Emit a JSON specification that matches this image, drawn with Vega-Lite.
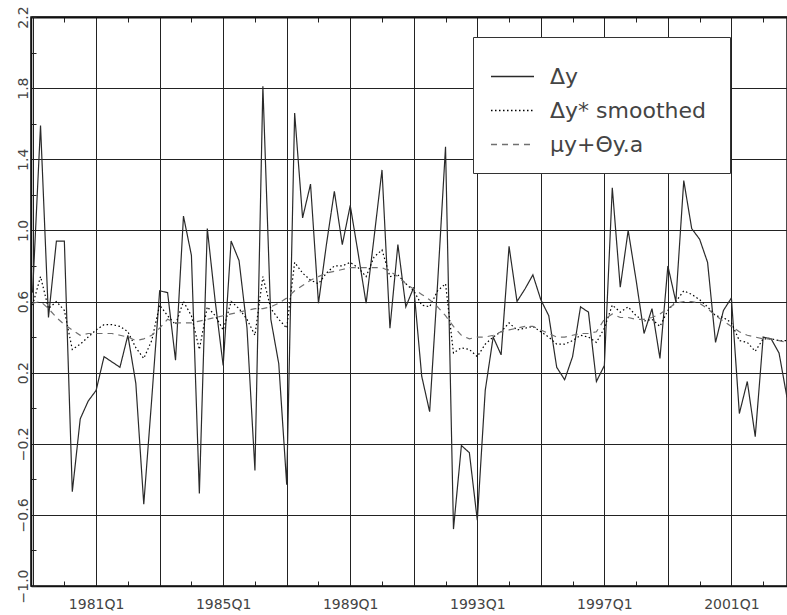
{
  "$schema": "https://vega.github.io/schema/vega-lite/v6.json",
  "width": 756,
  "height": 569,
  "autosize": {"type": "none"},
  "padding": {"left": 31, "top": 17, "right": 0, "bottom": 29},
  "background": "white",
  "config": {
    "view": {"stroke": "#111", "strokeWidth": 1.5},
    "font": "DejaVu Sans"
  },
  "data": {
    "values": [
      {"t": 1979, "dy": 0.65, "dys": 0.58, "mu": 0.59},
      {"t": 1979.25, "dy": 1.59, "dys": 0.74, "mu": 0.60},
      {"t": 1979.5, "dy": 0.51, "dys": 0.56, "mu": 0.56},
      {"t": 1979.75, "dy": 0.94, "dys": 0.60, "mu": 0.51},
      {"t": 1980, "dy": 0.94, "dys": 0.55, "mu": 0.47},
      {"t": 1980.25, "dy": -0.47, "dys": 0.33, "mu": 0.44},
      {"t": 1980.5, "dy": -0.06, "dys": 0.36, "mu": 0.41},
      {"t": 1980.75, "dy": 0.04, "dys": 0.40, "mu": 0.42},
      {"t": 1981, "dy": 0.10, "dys": 0.44, "mu": 0.42},
      {"t": 1981.25, "dy": 0.29, "dys": 0.47, "mu": 0.42},
      {"t": 1981.5, "dy": 0.26, "dys": 0.47, "mu": 0.42},
      {"t": 1981.75, "dy": 0.23, "dys": 0.46, "mu": 0.41},
      {"t": 1982, "dy": 0.41, "dys": 0.43, "mu": 0.40},
      {"t": 1982.25, "dy": 0.14, "dys": 0.34, "mu": 0.38},
      {"t": 1982.5, "dy": -0.54, "dys": 0.28, "mu": 0.39},
      {"t": 1982.75, "dy": 0.05, "dys": 0.38, "mu": 0.41},
      {"t": 1983, "dy": 0.66, "dys": 0.58, "mu": 0.45},
      {"t": 1983.25, "dy": 0.65, "dys": 0.52, "mu": 0.50},
      {"t": 1983.5, "dy": 0.27, "dys": 0.47, "mu": 0.48},
      {"t": 1983.75, "dy": 1.08, "dys": 0.60, "mu": 0.48},
      {"t": 1984, "dy": 0.86, "dys": 0.52, "mu": 0.48},
      {"t": 1984.25, "dy": -0.48, "dys": 0.33, "mu": 0.49},
      {"t": 1984.5, "dy": 1.01, "dys": 0.57, "mu": 0.50},
      {"t": 1984.75, "dy": 0.60, "dys": 0.52, "mu": 0.51},
      {"t": 1985, "dy": 0.24, "dys": 0.44, "mu": 0.52},
      {"t": 1985.25, "dy": 0.94, "dys": 0.60, "mu": 0.53},
      {"t": 1985.5, "dy": 0.83, "dys": 0.56, "mu": 0.54},
      {"t": 1985.75, "dy": 0.45, "dys": 0.50, "mu": 0.55},
      {"t": 1986, "dy": -0.35, "dys": 0.41, "mu": 0.56},
      {"t": 1986.25, "dy": 1.81, "dys": 0.74, "mu": 0.56},
      {"t": 1986.5, "dy": 0.50, "dys": 0.56, "mu": 0.57},
      {"t": 1986.75, "dy": 0.25, "dys": 0.50, "mu": 0.59},
      {"t": 1987, "dy": -0.43, "dys": 0.45, "mu": 0.62},
      {"t": 1987.25, "dy": 1.66, "dys": 0.82, "mu": 0.66},
      {"t": 1987.5, "dy": 1.07, "dys": 0.76, "mu": 0.69},
      {"t": 1987.75, "dy": 1.26, "dys": 0.72, "mu": 0.72},
      {"t": 1988, "dy": 0.59, "dys": 0.70, "mu": 0.74},
      {"t": 1988.25, "dy": 0.92, "dys": 0.76, "mu": 0.76},
      {"t": 1988.5, "dy": 1.22, "dys": 0.80, "mu": 0.77},
      {"t": 1988.75, "dy": 0.92, "dys": 0.80, "mu": 0.78},
      {"t": 1989, "dy": 1.14, "dys": 0.82, "mu": 0.79},
      {"t": 1989.25, "dy": 0.87, "dys": 0.79, "mu": 0.79},
      {"t": 1989.5, "dy": 0.59, "dys": 0.74, "mu": 0.79},
      {"t": 1989.75, "dy": 0.96, "dys": 0.85, "mu": 0.79},
      {"t": 1990, "dy": 1.34, "dys": 0.89, "mu": 0.79},
      {"t": 1990.25, "dy": 0.45, "dys": 0.74, "mu": 0.77},
      {"t": 1990.5, "dy": 0.92, "dys": 0.75, "mu": 0.74},
      {"t": 1990.75, "dy": 0.57, "dys": 0.70, "mu": 0.70},
      {"t": 1991, "dy": 0.68, "dys": 0.66, "mu": 0.67},
      {"t": 1991.25, "dy": 0.18, "dys": 0.58, "mu": 0.64},
      {"t": 1991.5, "dy": -0.02, "dys": 0.57, "mu": 0.61},
      {"t": 1991.75, "dy": 0.70, "dys": 0.66, "mu": 0.57},
      {"t": 1992, "dy": 1.47, "dys": 0.70, "mu": 0.52},
      {"t": 1992.25, "dy": -0.68, "dys": 0.31, "mu": 0.46},
      {"t": 1992.5, "dy": -0.21, "dys": 0.34, "mu": 0.41},
      {"t": 1992.75, "dy": -0.25, "dys": 0.33, "mu": 0.39},
      {"t": 1993, "dy": -0.63, "dys": 0.29, "mu": 0.40},
      {"t": 1993.25, "dy": 0.10, "dys": 0.36, "mu": 0.40},
      {"t": 1993.5, "dy": 0.40, "dys": 0.40, "mu": 0.41},
      {"t": 1993.75, "dy": 0.30, "dys": 0.43, "mu": 0.43},
      {"t": 1994, "dy": 0.91, "dys": 0.48, "mu": 0.44},
      {"t": 1994.25, "dy": 0.60, "dys": 0.44, "mu": 0.45},
      {"t": 1994.5, "dy": 0.67, "dys": 0.45, "mu": 0.46},
      {"t": 1994.75, "dy": 0.75, "dys": 0.46, "mu": 0.46},
      {"t": 1995, "dy": 0.61, "dys": 0.43, "mu": 0.44},
      {"t": 1995.25, "dy": 0.52, "dys": 0.40, "mu": 0.42},
      {"t": 1995.5, "dy": 0.23, "dys": 0.36, "mu": 0.40},
      {"t": 1995.75, "dy": 0.16, "dys": 0.36, "mu": 0.40},
      {"t": 1996, "dy": 0.29, "dys": 0.38, "mu": 0.41},
      {"t": 1996.25, "dy": 0.57, "dys": 0.41, "mu": 0.42},
      {"t": 1996.5, "dy": 0.54, "dys": 0.40, "mu": 0.42},
      {"t": 1996.75, "dy": 0.15, "dys": 0.37, "mu": 0.43},
      {"t": 1997, "dy": 0.24, "dys": 0.45, "mu": 0.50},
      {"t": 1997.25, "dy": 1.24, "dys": 0.58, "mu": 0.53},
      {"t": 1997.5, "dy": 0.68, "dys": 0.54, "mu": 0.51},
      {"t": 1997.75, "dy": 1.00, "dys": 0.57, "mu": 0.51},
      {"t": 1998, "dy": 0.72, "dys": 0.52, "mu": 0.50},
      {"t": 1998.25, "dy": 0.42, "dys": 0.49, "mu": 0.50},
      {"t": 1998.5, "dy": 0.56, "dys": 0.50, "mu": 0.51},
      {"t": 1998.75, "dy": 0.28, "dys": 0.46, "mu": 0.53},
      {"t": 1999, "dy": 0.80, "dys": 0.55, "mu": 0.56},
      {"t": 1999.25, "dy": 0.60, "dys": 0.60, "mu": 0.59},
      {"t": 1999.5, "dy": 1.28, "dys": 0.66, "mu": 0.60},
      {"t": 1999.75, "dy": 1.01, "dys": 0.64, "mu": 0.60},
      {"t": 2000, "dy": 0.95, "dys": 0.61, "mu": 0.59},
      {"t": 2000.25, "dy": 0.82, "dys": 0.57, "mu": 0.56},
      {"t": 2000.5, "dy": 0.37, "dys": 0.52, "mu": 0.52},
      {"t": 2000.75, "dy": 0.55, "dys": 0.51, "mu": 0.49},
      {"t": 2001, "dy": 0.62, "dys": 0.48, "mu": 0.46},
      {"t": 2001.25, "dy": -0.03, "dys": 0.38, "mu": 0.43},
      {"t": 2001.5, "dy": 0.15, "dys": 0.37, "mu": 0.41},
      {"t": 2001.75, "dy": -0.16, "dys": 0.32, "mu": 0.40},
      {"t": 2002, "dy": 0.40, "dys": 0.39, "mu": 0.39},
      {"t": 2002.25, "dy": 0.39, "dys": 0.39, "mu": 0.39},
      {"t": 2002.5, "dy": 0.31, "dys": 0.38, "mu": 0.38},
      {"t": 2002.75, "dy": 0.06, "dys": 0.38, "mu": 0.37}
    ]
  },
  "transform": [{"fold": ["dy", "dys", "mu"], "as": ["series", "v"]}],
  "encoding": {
    "y": {
      "field": "v",
      "type": "quantitative",
      "scale": {"domain": [-1, 2.2], "nice": false, "zero": false},
      "axis": {
        "orient": "left",
        "title": null,
        "values": [-1, -0.8, -0.6, -0.4, -0.2, 0, 0.2, 0.4, 0.6, 0.8, 1, 1.2, 1.4, 1.6, 1.8, 2, 2.2],
        "grid": true,
        "gridColor": "#222",
        "gridWidth": 1,
        "gridOpacity": {"condition": {"test": "indexof([-1, -0.6, -0.2, 0.2, 0.6, 1, 1.4, 1.8, 2.2], datum.value) >= 0", "value": 1}, "value": 0},
        "labelExpr": "indexof([-1, -0.6, -0.2, 0.2, 0.6, 1, 1.4, 1.8, 2.2], datum.value) >= 0 ? format(datum.value, '.1f') : ''",
        "labelAngle": 270,
        "labelAlign": "center",
        "labelBaseline": "alphabetic",
        "labelFont": "DejaVu Sans",
        "labelFontSize": 14,
        "labelColor": "#444",
        "labelPadding": 9,
        "labelFlush": false,
        "labelOverlap": false,
        "tickSize": -5,
        "tickColor": "#222",
        "domainColor": "#111",
        "domainWidth": 1.5
      }
    }
  },
  "resolve": {"axis": {"x": "independent"}},
  "layer": [
    {
      "mark": {"type": "line", "clip": true, "strokeWidth": 1.2},
      "encoding": {
        "x": {
          "field": "t",
          "type": "quantitative",
          "scale": {"domain": [1978.95, 2002.75], "nice": false, "zero": false},
          "axis": {
            "orient": "bottom",
            "title": null,
            "values": [1979, 1980, 1981, 1982, 1983, 1984, 1985, 1986, 1987, 1988, 1989, 1990, 1991, 1992, 1993, 1994, 1995, 1996, 1997, 1998, 1999, 2000, 2001, 2002],
            "grid": true,
            "gridColor": "#222",
            "gridWidth": 1,
            "gridOpacity": {"condition": {"test": "datum.value % 2 == 1", "value": 1}, "value": 0},
            "labelExpr": "datum.value % 4 == 1 ? datum.value + 'Q1' : ''",
            "labelFont": "DejaVu Sans",
            "labelFontSize": 14,
            "labelColor": "#444",
            "labelPadding": 16,
            "labelFlush": false,
            "labelOverlap": false,
            "tickSize": -5,
            "tickColor": "#222",
            "domainColor": "#111",
            "domainWidth": 1.5
          }
        },
        "color": {
          "field": "series",
          "type": "nominal",
          "scale": {"domain": ["dy", "dys", "mu"], "range": ["#2a2a2a", "#000000", "#707070"]},
          "legend": {
            "orient": "none",
            "legendX": 442,
            "legendY": 20,
            "title": null,
            "symbolType": "stroke",
            "symbolSize": 1849,
            "symbolStrokeWidth": 1.3,
            "labelFont": "DejaVu Sans",
            "labelFontSize": 22,
            "labelLimit": 400,
            "labelColor": "#444",
            "labelOffset": 15,
            "padding": 17,
            "rowPadding": -10,
            "fillColor": "white",
            "strokeColor": "#333",
            "labelExpr": "datum.label == 'dy' ? 'Δy' : datum.label == 'dys' ? 'Δy*  smoothed' : 'μy+Θy.a'"
          }
        },
        "strokeDash": {
          "field": "series",
          "type": "nominal",
          "scale": {"domain": ["dy", "dys", "mu"], "range": [[1, 0], [1.5, 2.5], [6, 5]]},
          "legend": {
            "orient": "none",
            "legendX": 442,
            "legendY": 20,
            "title": null,
            "symbolType": "stroke",
            "symbolSize": 1849,
            "symbolStrokeWidth": 1.3,
            "labelFont": "DejaVu Sans",
            "labelFontSize": 22,
            "labelLimit": 400,
            "labelColor": "#444",
            "labelOffset": 15,
            "padding": 17,
            "rowPadding": -10,
            "fillColor": "white",
            "strokeColor": "#333",
            "labelExpr": "datum.label == 'dy' ? 'Δy' : datum.label == 'dys' ? 'Δy*  smoothed' : 'μy+Θy.a'"
          }
        }
      }
    },
    {
      "mark": {"type": "line", "opacity": 0},
      "encoding": {
        "x": {
          "field": "t",
          "type": "quantitative",
          "axis": {
            "orient": "top",
            "title": null,
            "values": [1979, 1980, 1981, 1982, 1983, 1984, 1985, 1986, 1987, 1988, 1989, 1990, 1991, 1992, 1993, 1994, 1995, 1996, 1997, 1998, 1999, 2000, 2001, 2002],
            "labels": false,
            "grid": false,
            "tickSize": -5,
            "tickColor": "#222",
            "domainColor": "#111",
            "domainWidth": 2
          }
        }
      }
    }
  ]
}
